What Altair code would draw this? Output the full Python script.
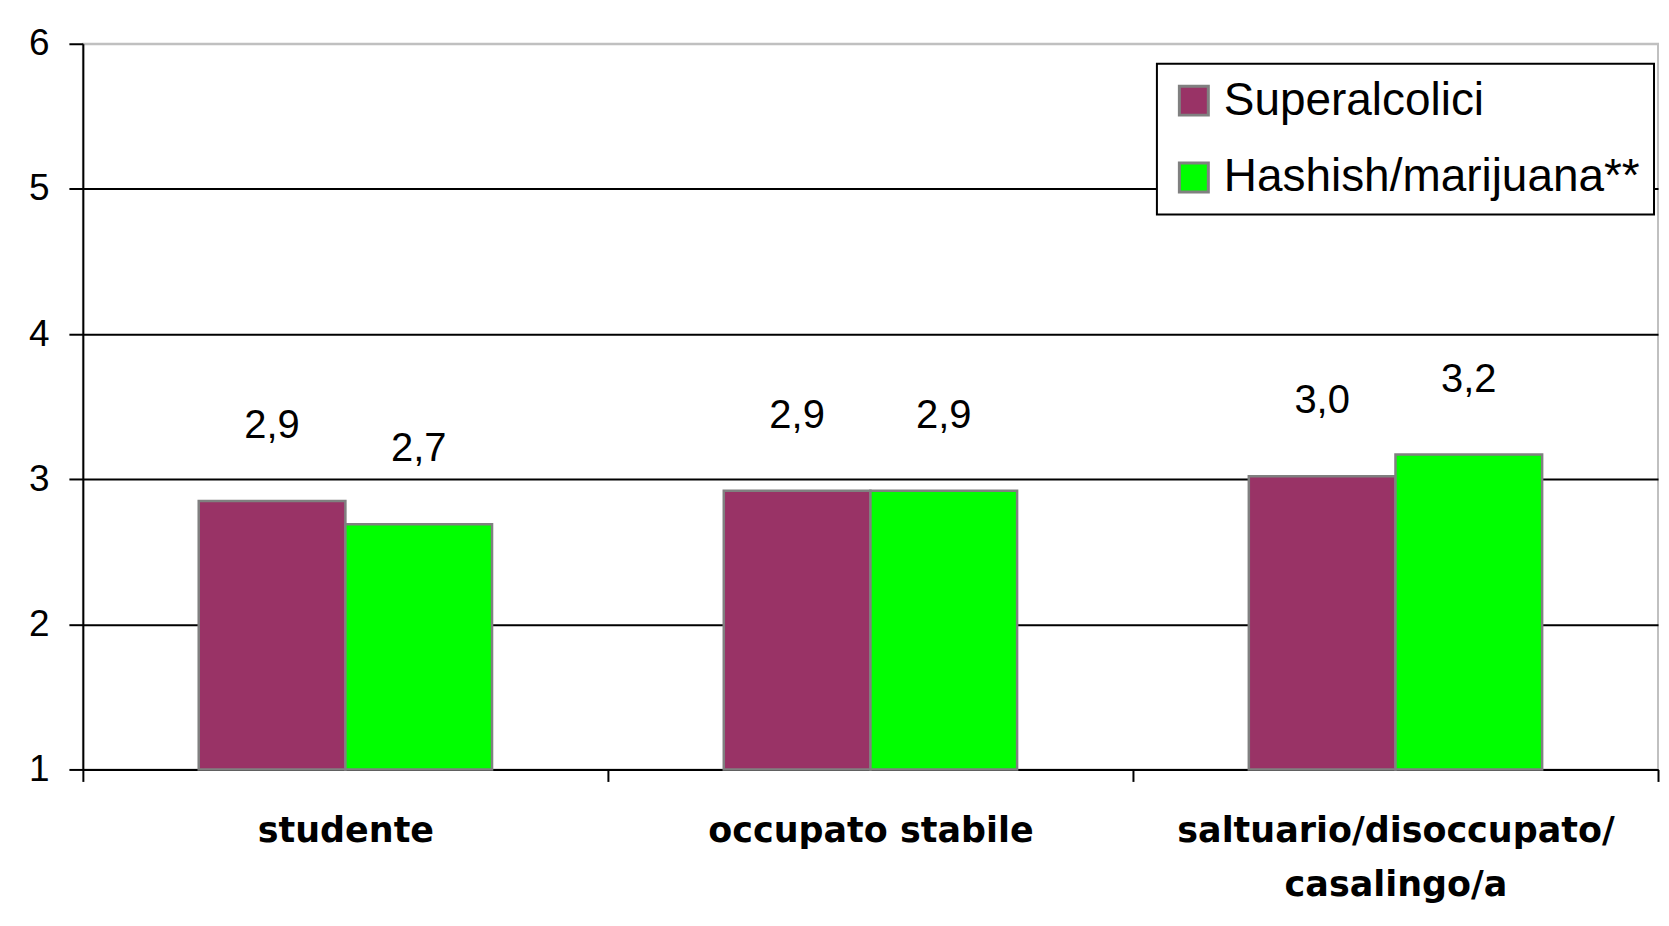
import altair as alt
import pandas as pd

categories = ["studente", "occupato stabile", "saltuario/disoccupato/\ncasalingo/a"]
series = ["Superalcolici", "Hashish/marijuana**"]
superalcolici = [2.85, 2.92, 3.02]
hashish = [2.69, 2.92, 3.17]
labels_super = ["2,9", "2,9", "3,0"]
labels_hash = ["2,7", "2,9", "3,2"]
colors = ["#993366", "#00FF00"]

rows = []
for i, c in enumerate(categories):
    rows.append({"category": c, "series": series[0], "value": superalcolici[i], "label": labels_super[i]})
    rows.append({"category": c, "series": series[1], "value": hashish[i], "label": labels_hash[i]})
df = pd.DataFrame(rows)

x_enc = alt.X(
    "category:N",
    sort=categories,
    scale=alt.Scale(paddingInner=0, paddingOuter=0),
    axis=alt.Axis(
        title=None,
        labelAngle=0,
        tickBand="extent",
        labelExpr="split(datum.label, '\\n')",
        labelFont="DejaVu Sans",
        labelFontWeight="bold",
        labelFontSize=35,
        labelColor="black",
        labelLineHeight=54,
        labelPadding=32,
        labelBaseline="top",
        tickSize=12,
        tickWidth=2,
        tickColor="black",
        domainColor="black",
        domainWidth=2,
        grid=False,
        labelLimit=1000,
    ),
)
xoff = alt.XOffset("series:N", sort=series, scale=alt.Scale(paddingInner=0, paddingOuter=0.79))

y_scale = alt.Scale(domain=[1, 6], nice=False, zero=False)

bars = alt.Chart(df).mark_bar(stroke="#808080", strokeWidth=2.5).encode(
    x=x_enc,
    xOffset=xoff,
    y=alt.Y(
        "value:Q",
        scale=y_scale,
        axis=alt.Axis(
            title=None,
            values=[1, 2, 3, 4, 5, 6],
            format="d",
            labelFont="Liberation Sans",
            labelFontSize=37,
            labelColor="black",
            labelPadding=20,
            tickSize=14,
            tickWidth=2,
            tickColor="black",
            domainColor="black",
            domainWidth=2,
            grid=True,
            gridColor={"condition": {"test": "datum.value == 6", "value": "#C0C0C0"}, "value": "black"},
            gridWidth=2,
        ),
    ),
    y2=alt.datum(1),
    color=alt.Color(
        "series:N",
        sort=series,
        scale=alt.Scale(domain=series, range=colors),
        legend=alt.Legend(
            title=None,
            orient="none",
            legendX=1076,
            legendY=20,
            symbolType="square",
            symbolSize=841,
            symbolStrokeColor="#808080",
            symbolStrokeWidth=3,
            symbolOpacity=1,
            labelFont="Liberation Sans",
            labelFontSize=46,
            labelColor="black",
            labelLimit=1000,
            labelOffset=7,
            rowPadding=31,
            padding=14,
            strokeColor="black",
            fillColor="white",
        ),
    ),
)

label_bg = alt.Chart(df).mark_text(
    font="Liberation Sans", fontSize=40, dy=-75, baseline="middle",
    color="white", stroke="white", strokeWidth=14,
).encode(x=x_enc, xOffset=xoff, y=alt.Y("value:Q", scale=y_scale), text="label:N")

label_txt = alt.Chart(df).mark_text(
    font="Liberation Sans", fontSize=40, dy=-75, baseline="middle", color="black",
).encode(x=x_enc, xOffset=xoff, y=alt.Y("value:Q", scale=y_scale), text="label:N")

chart = (
    alt.layer(bars, label_bg, label_txt)
    .properties(width=1578, height=727, padding={"left": 20, "top": 16, "right": 2, "bottom": 5}, background="white")
    .configure_view(stroke="#C0C0C0", strokeWidth=2)
    .configure_legend(strokeWidth=2)
)

chart.save("out.html", embed_options={"renderer": "svg", "actions": False})
